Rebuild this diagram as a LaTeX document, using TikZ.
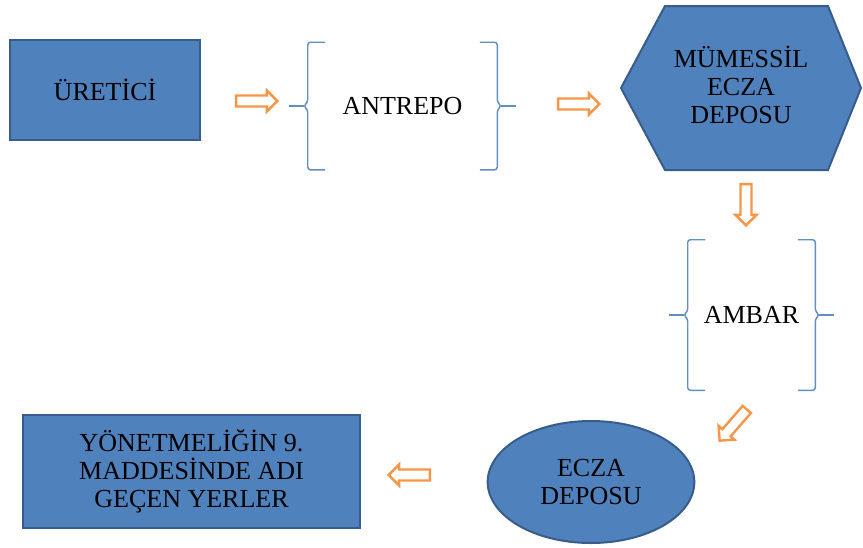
\documentclass[tikz,border=0pt]{standalone}
\usepackage{fontspec}
\setmainfont{Liberation Serif}
\usetikzlibrary{shapes.geometric,shapes.arrows}

\definecolor{boxblue}{HTML}{4F81BD}
\definecolor{boxedge}{HTML}{385D8A}
\definecolor{arroworange}{HTML}{F79646}

\tikzset{
  blockbox/.style={draw=boxedge, fill=boxblue, line width=1.5pt, align=center,
    font=\fontsize{19.5}{21}\selectfont},
  plainbox/.style={align=center, font=\fontsize{19.5}{21}\selectfont},
  flowarrow/.style={single arrow, draw=arroworange, fill=white, line width=1.8pt,
    minimum height=31pt, inner sep=3.2pt, single arrow head extend=3.8pt},
  bracket/.style={draw=boxblue!90, line width=1.1pt, rounded corners=2pt}
}

% brackets on both sides of a node
\newcommand{\sidebrackets}[1]{%
  \draw[bracket] ([xshift=13pt]#1.north west) -- (#1.north west)
    -- ([yshift=3pt]#1.west) -- ([xshift=-3pt]#1.west) -- ([yshift=-3pt]#1.west)
    -- (#1.south west) -- ([xshift=13pt]#1.south west);
  \draw[bracket] ([xshift=-3pt]#1.west) -- ([xshift=-14pt]#1.west);
  \draw[bracket] ([xshift=-13pt]#1.north east) -- (#1.north east)
    -- ([yshift=3pt]#1.east) -- ([xshift=3pt]#1.east) -- ([yshift=-3pt]#1.east)
    -- (#1.south east) -- ([xshift=-13pt]#1.south east);
  \draw[bracket] ([xshift=3pt]#1.east) -- ([xshift=14pt]#1.east);
}

\begin{document}
\begin{tikzpicture}[x=0.75pt,y=-0.75pt]
\useasboundingbox (0,0) rectangle (863,547);

% top row
\node[blockbox, minimum width=142.5pt, minimum height=75pt] (uretici) at (105,90) {ÜRETİCİ};
\node[plainbox, minimum width=141.75pt, minimum height=95.25pt] (antrepo) at (402.5,106) {ANTREPO};
\sidebrackets{antrepo}

\draw[draw=boxedge, fill=boxblue, line width=1.5pt]
  (665,6) -- (828,6) -- (861,88) -- (828,170) -- (665,170) -- (621,88) -- cycle;
\node[plainbox] (mumessil) at (741,85) {MÜMESSİL\\ECZA\\DEPOSU};

% right column
\node[plainbox, minimum width=95.25pt, minimum height=112.5pt] (ambar) at (751.5,315) {AMBAR};
\sidebrackets{ambar}

% bottom row
\node[blockbox, ellipse, minimum width=155pt, minimum height=91.5pt, inner sep=0pt] (ecza) at (591,482) {ECZA\\DEPOSU};
\node[blockbox, minimum width=252.75pt, minimum height=84.75pt] (yonetmelik) at (191.5,471.5) {YÖNETMELİĞİN 9.\\MADDESİNDE ADI\\GEÇEN YERLER};

% arrows
\node[flowarrow] (a1) at (254,101) {};
\node[flowarrow] (a2) at (576,104) {};
\node[flowarrow, rotate=-90] (a3) at (746,202) {};
\node[flowarrow, rotate=-131] (a4) at (735,423) {};
\node[flowarrow, rotate=180] (a5) at (412,475) {};
\end{tikzpicture}
\end{document}
